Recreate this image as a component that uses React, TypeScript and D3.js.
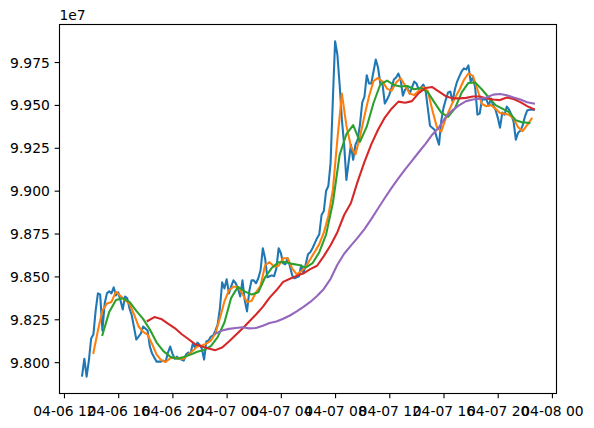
import React, { useEffect, useRef } from "react";
import * as d3 from "d3";

// prices in units of 1e7, one sample every 10 minutes
const priceStart = "2024-04-06T13:18:00";
const priceStep = 10;
const price = [
  9.7924, 9.8023, 9.7918, 9.8012, 9.8141, 9.8164, 9.8304, 9.8404, 9.8398, 9.8187,
  9.8345, 9.8404, 9.8416, 9.8404, 9.8439, 9.8392, 9.8410, 9.8363, 9.8310, 9.8386,
  9.8375, 9.8316, 9.8275, 9.8205, 9.8135, 9.8152, 9.8170, 9.8211, 9.8199, 9.8187,
  9.8094, 9.8053, 9.8029, 9.8006, 9.8006, 9.8006, 9.8012, 9.8006, 9.8059, 9.8094,
  9.8053, 9.8023, 9.8035, 9.8023, 9.8018, 9.8012, 9.8047, 9.8059, 9.8053, 9.8111,
  9.8088, 9.8117, 9.8105, 9.8082, 9.8018, 9.8123, 9.8129, 9.8152, 9.8158, 9.8187,
  9.8222, 9.8316, 9.8468, 9.8433, 9.8486, 9.8404, 9.8445, 9.8480, 9.8463, 9.8433,
  9.8386, 9.8480, 9.8363, 9.8299, 9.8416, 9.8480, 9.8480, 9.8463, 9.8492, 9.8539,
  9.8667, 9.8609, 9.8498, 9.8504, 9.8509, 9.8504, 9.8550, 9.8667, 9.8638, 9.8580,
  9.8574, 9.8609, 9.8562, 9.8509, 9.8492, 9.8498, 9.8504, 9.8568, 9.8521, 9.8574,
  9.8632, 9.8644, 9.8667, 9.8697, 9.8726, 9.8749, 9.8861, 9.8884, 9.9001, 9.9030,
  9.9165, 9.9534, 9.9874, 9.9797, 9.9622, 9.9417, 9.9271, 9.9066, 9.9171, 9.9271,
  9.9183, 9.9271, 9.9300, 9.9388, 9.9516, 9.9552, 9.9675, 9.9628, 9.9628, 9.9698,
  9.9768, 9.9721, 9.9628, 9.9622, 9.9511, 9.9534, 9.9563, 9.9604, 9.9651, 9.9663,
  9.9686, 9.9651, 9.9557, 9.9593, 9.9604, 9.9569, 9.9604, 9.9639, 9.9628, 9.9593,
  9.9604, 9.9622, 9.9593, 9.9487, 9.9382, 9.9370, 9.9358, 9.9312, 9.9271, 9.9411,
  9.9487, 9.9534, 9.9575, 9.9581, 9.9522, 9.9593, 9.9639, 9.9669, 9.9698, 9.9716,
  9.9710, 9.9733, 9.9639, 9.9663, 9.9604, 9.9446, 9.9452, 9.9534, 9.9534, 9.9534,
  9.9499, 9.9540, 9.9499, 9.9475, 9.9429, 9.9370, 9.9458, 9.9446, 9.9493, 9.9475,
  9.9446, 9.9405, 9.9300, 9.9341, 9.9352, 9.9382, 9.9434, 9.9470, 9.9475, 9.9475,
  9.9475,
];

// rolling means
const ma5Start = "2024-04-06T14:08:00";
const ma5Step = 20;
const ma5 = [
  9.8056, 9.8187, 9.8304, 9.8345, 9.8354, 9.8414, 9.8389, 9.8365, 9.8343, 9.8281,
  9.8211, 9.8180, 9.8164, 9.8108, 9.8047, 9.8015, 9.8004, 9.8026, 9.8029, 9.8023,
  9.8023, 9.8047, 9.8070, 9.8094, 9.8100, 9.8111, 9.8129, 9.8170, 9.8259, 9.8357,
  9.8422, 9.8443, 9.8443, 9.8401, 9.8354, 9.8360, 9.8410, 9.8448, 9.8568, 9.8586,
  9.8560, 9.8565, 9.8609, 9.8609, 9.8550, 9.8515, 9.8533, 9.8560, 9.8603, 9.8647,
  9.8691, 9.8758, 9.8855, 9.9007, 9.9300, 9.9569, 9.9382, 9.9259, 9.9214, 9.9317,
  9.9440, 9.9552, 9.9642, 9.9660, 9.9639, 9.9598, 9.9585, 9.9634, 9.9658, 9.9616,
  9.9569, 9.9560, 9.9585, 9.9607, 9.9584, 9.9475, 9.9376, 9.9347, 9.9426, 9.9487,
  9.9543, 9.9590, 9.9648, 9.9686, 9.9672, 9.9593, 9.9508, 9.9495, 9.9502, 9.9481,
  9.9456, 9.9452, 9.9446, 9.9423, 9.9373, 9.9350, 9.9385, 9.9423,
];

const ma10Start = "2024-04-06T14:48:00";
const ma10Step = 30;
const ma10 = [
  9.8161, 9.8296, 9.8365, 9.8375, 9.8354, 9.8302, 9.8255, 9.8193, 9.8117, 9.8067,
  9.8035, 9.8023, 9.8033, 9.8047, 9.8064, 9.8074, 9.8097, 9.8149, 9.8234, 9.8378,
  9.8442, 9.8416, 9.8397, 9.8410, 9.8498, 9.8553, 9.8586, 9.8587, 9.8576, 9.8570,
  9.8554, 9.8580, 9.8644, 9.8747, 9.8931, 9.9212, 9.9332, 9.9385, 9.9288, 9.9376,
  9.9514, 9.9622, 9.9645, 9.9619, 9.9610, 9.9613, 9.9594, 9.9601, 9.9578, 9.9516,
  9.9458, 9.9433, 9.9481, 9.9575, 9.9631, 9.9634, 9.9593, 9.9546, 9.9502, 9.9481,
  9.9461, 9.9413, 9.9401, 9.9398,
];

const ma30Start = "2024-04-06T18:08:00";
const ma30Step = 30;
const ma30 = [
  9.8243, 9.8266, 9.8255, 9.8228, 9.8202, 9.8167, 9.8138, 9.8108, 9.8094, 9.8083,
  9.8073, 9.8088, 9.8123, 9.8161, 9.8199, 9.8240, 9.8281, 9.8325, 9.8379, 9.8422,
  9.8471, 9.8489, 9.8506, 9.8521, 9.8545, 9.8565, 9.8621, 9.8685, 9.8761, 9.8861,
  9.8931, 9.9057, 9.9171, 9.9273, 9.9358, 9.9429, 9.9481, 9.9522, 9.9516, 9.9525,
  9.9572, 9.9601, 9.9607, 9.9581, 9.9554, 9.9541, 9.9541, 9.9544, 9.9552, 9.9552,
  9.9540, 9.9534, 9.9531, 9.9546, 9.9537, 9.9519, 9.9496, 9.9477,
];

const ma60Start = "2024-04-06T23:08:00";
const ma60Step = 30;
const ma60 = [
  9.8170, 9.8187, 9.8197, 9.8202, 9.8206, 9.8200, 9.8202, 9.8215, 9.8231, 9.8240,
  9.8256, 9.8275, 9.8299, 9.8325, 9.8354, 9.8389, 9.8430, 9.8489, 9.8571, 9.8635,
  9.8682, 9.8729, 9.8779, 9.8837, 9.8899, 9.8960, 9.9019, 9.9074, 9.9127, 9.9177,
  9.9227, 9.9276, 9.9329, 9.9373, 9.9432, 9.9473, 9.9502, 9.9525, 9.9534, 9.9539,
  9.9546, 9.9563, 9.9567, 9.9559, 9.9546, 9.9534, 9.9519, 9.9511,
];

const yTicks = [9.8, 9.825, 9.85, 9.875, 9.9, 9.925, 9.95, 9.975];

const colors = ["#1f77b4", "#ff7f0e", "#2ca02c", "#d62728", "#9467bd"];

function toPoints(start: string, step: number, vals: number[]) {
  const t0 = new Date(start).getTime();
  return vals.map((v, i) => ({ t: new Date(t0 + i * step * 60000), v }));
}

const App = () => {
  const ref = useRef<SVGSVGElement>(null);

  useEffect(() => {
    const svg = d3.select(ref.current);
    svg.selectAll("*").remove();

    const left = 59.5, right = 556.5, top = 24.5, bottom = 393.5;
    const font = "DejaVu Sans";
    const fs = 13.89;

    const series = [
      toPoints(priceStart, priceStep, price),
      toPoints(ma5Start, ma5Step, ma5),
      toPoints(ma10Start, ma10Step, ma10),
      toPoints(ma30Start, ma30Step, ma30),
      toPoints(ma60Start, ma60Step, ma60),
    ];

    const all = series.flat();
    const [tMin, tMax] = d3.extent(all, (d) => d.t.getTime()) as [number, number];
    const [vMin, vMax] = d3.extent(all, (d) => d.v) as [number, number];
    const tPad = (tMax - tMin) * 0.05;
    const vPad = (vMax - vMin) * 0.05;

    const x = d3.scaleTime()
      .domain([new Date(tMin - tPad), new Date(tMax + tPad)])
      .range([left, right]);
    const y = d3.scaleLinear()
      .domain([vMin - vPad, vMax + vPad])
      .range([bottom, top]);

    const line = d3.line<{ t: Date; v: number }>()
      .x((d) => x(d.t))
      .y((d) => y(d.v));

    series.forEach((s, i) => {
      svg.append("path")
        .attr("d", line(s))
        .attr("fill", "none")
        .attr("stroke", colors[i])
        .attr("stroke-width", 2.08)
        .attr("stroke-linejoin", "round")
        .attr("stroke-linecap", "square");
    });

    // x ticks every 4 hours
    const xTicks = d3.timeHour.every(4)!.range(x.domain()[0], x.domain()[1]);
    const fmt = d3.timeFormat("%m-%d %H");
    xTicks.forEach((t) => {
      const px = x(t);
      svg.append("line")
        .attr("x1", px).attr("x2", px)
        .attr("y1", bottom).attr("y2", bottom + 4.86)
        .attr("stroke", "black").attr("stroke-width", 1.11);
      svg.append("text")
        .attr("x", px).attr("y", bottom + 22)
        .attr("text-anchor", "middle")
        .attr("font-family", font).attr("font-size", fs)
        .attr("fill", "black")
        .text(fmt(t));
    });

    yTicks.forEach((v) => {
      const py = y(v);
      svg.append("line")
        .attr("x1", left - 4.86).attr("x2", left)
        .attr("y1", py).attr("y2", py)
        .attr("stroke", "black").attr("stroke-width", 1.11);
      svg.append("text")
        .attr("x", left - 9.7).attr("y", py)
        .attr("dy", "0.36em")
        .attr("text-anchor", "end")
        .attr("font-family", font).attr("font-size", fs)
        .attr("fill", "black")
        .text(v.toFixed(3));
    });

    svg.append("text")
      .attr("x", left).attr("y", top - 5)
      .attr("font-family", font).attr("font-size", fs)
      .attr("fill", "black")
      .text("1e7");

    svg.append("rect")
      .attr("x", left).attr("y", top)
      .attr("width", right - left).attr("height", bottom - top)
      .attr("fill", "none")
      .attr("stroke", "black").attr("stroke-width", 1.11);
  }, []);

  return (
    <svg
      ref={ref}
      width={594}
      height={428}
      style={{ position: "absolute", left: 0, top: 0, background: "white" }}
    />
  );
};

export default App;
